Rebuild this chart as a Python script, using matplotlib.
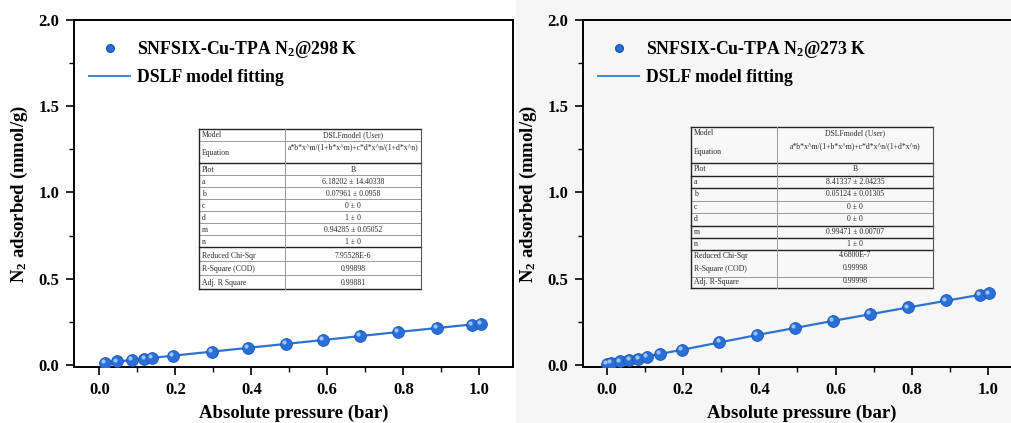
import matplotlib
matplotlib.use("Agg")
import matplotlib.pyplot as plt
from matplotlib.lines import Line2D
from matplotlib.patches import Rectangle
from matplotlib.ticker import MultipleLocator
import matplotlib.transforms as mtransforms

plt.rcParams['font.family'] = ['Liberation Serif', 'DejaVu Serif']
plt.rcParams['mathtext.fontset'] = 'custom'
plt.rcParams['mathtext.rm'] = 'Liberation Serif:bold'
plt.rcParams['mathtext.it'] = 'Liberation Serif:bold:italic'
plt.rcParams['mathtext.bf'] = 'Liberation Serif:bold'

# ---------------- data ----------------
p298 = [0.014, 0.045, 0.085, 0.118, 0.138, 0.193, 0.296, 0.391, 0.490, 0.588, 0.685, 0.786, 0.889, 0.980, 1.005]
q298 = [0.012, 0.020, 0.030, 0.037, 0.041, 0.054, 0.077, 0.099, 0.123, 0.145, 0.168, 0.191, 0.214, 0.234, 0.240]
fit_p298 = [0.014, 0.2, 0.4, 0.6, 0.8, 1.005]
fit_q298 = [0.012, 0.055, 0.101, 0.147, 0.194, 0.240]

p273 = [0.000, 0.010, 0.034, 0.059, 0.082, 0.104, 0.139, 0.196, 0.295, 0.394, 0.493, 0.592, 0.690, 0.789, 0.890, 0.979, 1.003]
q273 = [0.008, 0.012, 0.021, 0.029, 0.037, 0.047, 0.063, 0.088, 0.133, 0.175, 0.214, 0.255, 0.295, 0.334, 0.375, 0.408, 0.416]
fit_p273 = [0.000, 0.2, 0.4, 0.6, 0.8, 1.003]
fit_q273 = [0.007, 0.089, 0.176, 0.258, 0.337, 0.416]

labels298 = ["SNFSIX-Cu-TPA N$_2$@298 K", "DSLF model fitting"]
labels273 = ["SNFSIX-Cu-TPA N$_2$@273 K", "DSLF model fitting"]
xlabel = "Absolute pressure (bar)"
ylabel = "N$_2$ adsorbed (mmol/g)"

tbl_rows = ["Model", "Equation", "Plot", "a", "b", "c", "d", "m", "n",
            "Reduced Chi-Sqr", "R-Square (COD)", "Adj. R Square"]
tbl_vals298 = ["DSLFmodel (User)", "a*b*x^m/(1+b*x^m)+c*d*x^n/(1+d*x^n)", "B",
               "6.18202 \u00b1 14.40338", "0.07961 \u00b1 0.0958", "0 \u00b1 0", "1 \u00b1 0",
               "0.94285 \u00b1 0.05052", "1 \u00b1 0", "7.95528E-6", "0.99898", "0.99881"]
tbl_rows273 = ["Model", "Equation", "Plot", "a", "b", "c", "d", "m", "n",
               "Reduced Chi-Sqr", "R-Square (COD)", "Adj. R-Square"]
tbl_vals273 = ["DSLFmodel (User)", "a*b*x^m/(1+b*x^m)+c*d*x^n/(1+d*x^n)", "B",
               "8.41337 \u00b1 2.04235", "0.05124 \u00b1 0.01305", "0 \u00b1 0", "0 \u00b1 0",
               "0.99471 \u00b1 0.00707", "1 \u00b1 0", "4.6800E-7", "0.99998", "0.99998"]

# ---------------- figure ----------------
W, H = 1011, 423
fig = plt.figure(figsize=(W / 100, H / 100), dpi=100)
fig.patch.set_facecolor('white')

def fx(x):
    return x / W

def fy(y):
    return 1 - y / H

# light background of right half
fig.add_artist(Rectangle((fx(516), 0), 1 - fx(516), 1, transform=fig.transFigure,
                         facecolor='#f6f6f6', edgecolor='none', zorder=-10))

blue = '#2a6fd8'
edge = '#1a56b8'
line_c = '#2b74d2'


def make_axes(x0, x1, xlim, bg):
    ax = fig.add_axes([fx(x0), fy(367), fx(x1) - fx(x0), fy(20) - fy(367)])
    ax.set_facecolor(bg)
    ax.set_xlim(*xlim)
    ax.set_ylim(-0.012, 2.0)
    ax.xaxis.set_major_locator(MultipleLocator(0.2))
    ax.xaxis.set_minor_locator(MultipleLocator(0.1))
    ax.yaxis.set_major_locator(MultipleLocator(0.5))
    ax.yaxis.set_minor_locator(MultipleLocator(0.25))
    ax.tick_params(which='major', direction='out', length=5.5, width=1.2,
                   labelsize=12, pad=5)
    ax.tick_params(which='minor', direction='out', length=3.5, width=1.0)
    for lab in ax.get_xticklabels() + ax.get_yticklabels():
        lab.set_fontweight('bold')
    for s in ax.spines.values():
        s.set_linewidth(1.4)
    ax.set_xlabel(xlabel, fontsize=13.5, fontweight='bold', labelpad=5)
    ax.set_ylabel(ylabel, fontsize=13.5, fontweight='bold', labelpad=6)
    return ax


def plot_panel(ax, px, qy, fpx, fqy, labels):
    ax.plot(fpx, fqy, '-', color=line_c, lw=1.6, zorder=2)
    ax.plot(px, qy, 'o', ms=8.5, color=blue, mec=edge, mew=0.6, zorder=3)
    off = mtransforms.ScaledTranslation(-1.2 / 72, 1.2 / 72, fig.dpi_scale_trans)
    ax.plot(px, qy, 'o', ms=3, color='#9cc3f5', mec='none', zorder=4,
            transform=ax.transData + off)
    h1 = Line2D([], [], ls='none', marker='o', ms=5.5, color=blue, mec=edge)
    h2 = Line2D([], [], ls='-', color='#3d86d6', lw=1.4)
    leg = ax.legend([h1, h2], labels, loc='upper left',
                    bbox_to_anchor=(0.035, 0.945), frameon=False,
                    prop={'family': 'Liberation Serif', 'weight': 'bold', 'size': 12.8},
                    handlelength=2.3, handletextpad=0.4, labelspacing=0.5,
                    borderpad=0, borderaxespad=0)
    return leg


def draw_table(x0, x1, xdiv, hlines, texts, vals, bg):
    y_top = hlines[0][0]
    y_bot = hlines[-1][0]
    fig.add_artist(Rectangle((fx(x0), fy(y_bot)), fx(x1) - fx(x0), fy(y_top) - fy(y_bot),
                             transform=fig.transFigure, facecolor=bg,
                             edgecolor='none', zorder=5))
    for y, st in hlines:
        if st == 'dark':
            c, lw = '#222222', 1.0
        else:
            c, lw = '#9a9a9a', 0.7
        fig.add_artist(Line2D([fx(x0), fx(x1)], [fy(y), fy(y)], transform=fig.transFigure,
                              color=c, lw=lw, zorder=6))
    for xx, c, lw in [(x0, '#222222', 1.0), (x1, '#555555', 0.8), (xdiv, '#9a9a9a', 0.7)]:
        fig.add_artist(Line2D([fx(xx), fx(xx)], [fy(y_top), fy(y_bot)], transform=fig.transFigure,
                              color=c, lw=lw, zorder=6))
    for t, y in texts:
        fig.text(fx(x0 + 3), fy(y), t, fontsize=5.6, color='#2a2a2a',
                 ha='left', va='center', zorder=7)
    cx = (xdiv + x1) / 2
    for t, y in vals:
        fig.text(fx(cx), fy(y), t, fontsize=5.6, color='#2a2a2a',
                 ha='center', va='center', zorder=7)


# left panel
ax1 = make_axes(74, 513, (-0.067, 1.089), 'white')
plot_panel(ax1, p298, q298, fit_p298, fit_q298, labels298)

# right panel
ax2 = make_axes(583, 1020, (-0.063, 1.084), '#f6f6f6')
plot_panel(ax2, p273, q273, fit_p273, fit_q273, labels273)

# left table
edges_l = [129, 141, 163, 175, 187, 199, 211, 223, 235, 247, 261, 275, 289]
styles_l = ['dark', 'light', 'dark', 'light', 'light', 'light', 'light', 'light', 'light',
            'dark', 'light', 'light', 'dark']
ty_l = [135, 153, 170, 182, 194, 206, 218, 230, 242, 256, 269, 283]
vy_l = [135, 147, 170, 182, 194, 206, 218, 230, 242, 256, 269, 283]
draw_table(199, 421, 285, list(zip(edges_l, styles_l)),
           list(zip(tbl_rows, ty_l)), list(zip(tbl_vals298, vy_l)), 'white')

# right table
edges_r = [127, 163, 176, 188, 201, 213, 226, 238, 250, 277, 288]
styles_r = ['dark', 'dark', 'dark', 'dark', 'light', 'light', 'dark', 'dark', 'dark',
            'light', 'dark']
ty_r = [133, 152, 169, 182, 194, 207, 219, 232, 244, 256, 269, 282]
vy_r = [133, 146, 169, 182, 194, 207, 219, 232, 244, 255, 268, 281]
draw_table(691, 933, 777, list(zip(edges_r, styles_r)),
           list(zip(tbl_rows273, ty_r)), list(zip(tbl_vals273, vy_r)), '#f8f8f8')

fig.savefig('out.png', dpi=100)
